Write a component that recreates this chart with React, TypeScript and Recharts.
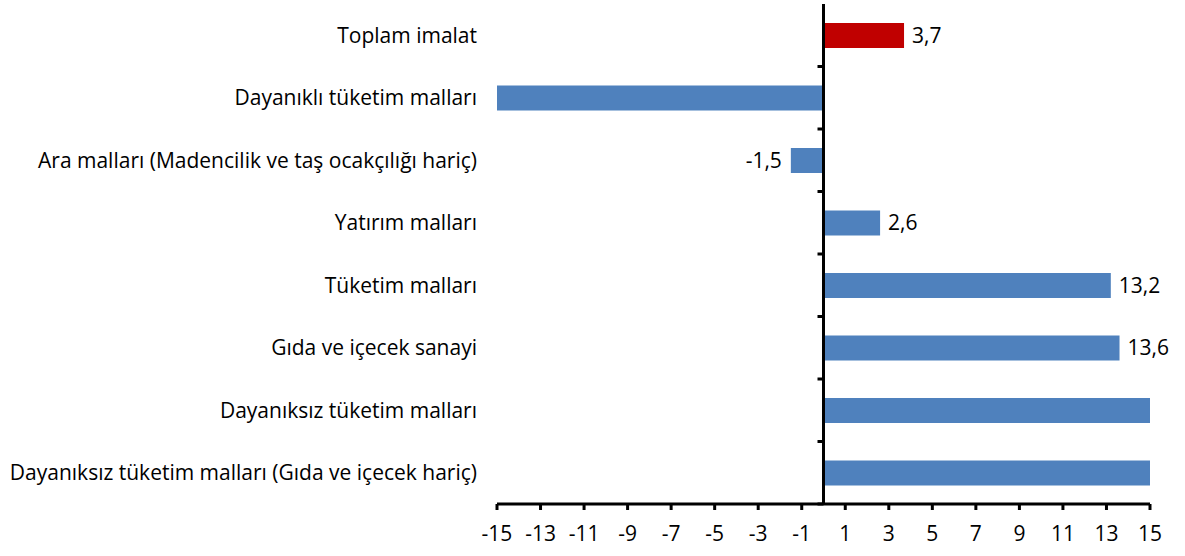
import React from 'react'
import { BarChart, Bar, XAxis, YAxis, Cell, ReferenceLine, LabelList } from 'recharts'

const categories = [
  'Toplam imalat',
  'Dayanıklı tüketim malları',
  'Ara malları (Madencilik ve taş ocakçılığı hariç)',
  'Yatırım malları',
  'Tüketim malları',
  'Gıda ve içecek sanayi',
  'Dayanıksız tüketim malları',
  'Dayanıksız tüketim malları (Gıda ve içecek hariç)',
]
// the 2nd, 7th and 8th bars run off the axis in the source, values estimated
const values = [3.7, -22.5, -1.5, 2.6, 13.2, 13.6, 17.5, 19.8]
const xTicks = [-15, -13, -11, -9, -7, -5, -3, -1, 1, 3, 5, 7, 9, 11, 13, 15]

const data = categories.map((name, i) => ({ name, value: values[i] }))

const FONT = '"Open Sans", sans-serif'
const FS = 21
const BLUE = '#4F81BD'
const RED = '#C00000'

// value label: hidden when the bar is cut off by the axis range
const ValueLabel = (props: any) => {
  const { x, y, width, height, value } = props
  if (Math.abs(value) > 15) return null
  const neg = value < 0
  const left = Math.min(x, x + width)
  const right = Math.max(x, x + width)
  return (
    <text
      x={neg ? left - 9 : right + 8}
      y={y + height / 2}
      dy="0.35em"
      textAnchor={neg ? 'end' : 'start'}
      fontSize={FS}
      fontFamily={FONT}
      fill="#000"
    >
      {String(value).replace('.', ',')}
    </text>
  )
}

// zero line with small ticks between categories
const ZeroAxis = (props: any) => {
  const { x1, y1, x2, y2 } = props
  const n = categories.length
  const step = (y2 - y1) / n
  return (
    <g>
      <line x1={x1} y1={y1} x2={x2} y2={y2} stroke="#000" strokeWidth={3} />
      {Array.from({ length: n }, (_, i) => (
        <line key={i} x1={x1 - 6} x2={x1} y1={y1 + i * step} y2={y1 + i * step} stroke="#000" strokeWidth={3} />
      ))}
    </g>
  )
}

export default function App() {
  return (
    <div style={{ position: 'absolute', left: 0, top: 0, background: '#fff' }}>
      <BarChart
        width={1185}
        height={556}
        data={data}
        layout="vertical"
        margin={{ top: 4, right: 35, bottom: 0, left: 0 }}
        barSize={25}
      >
        <XAxis
          type="number"
          domain={[-15, 15]}
          ticks={xTicks}
          allowDataOverflow
          height={52}
          axisLine={{ stroke: '#000', strokeWidth: 3 }}
          tickLine={{ stroke: '#000', strokeWidth: 3 }}
          tickSize={6}
          tickMargin={16}
          tick={{ fontSize: FS, fontFamily: FONT, fill: '#000' }}
          interval={0}
        />
        <YAxis
          type="category"
          dataKey="name"
          width={497}
          axisLine={false}
          tickLine={false}
          tickSize={0}
          tickMargin={20}
          interval={0}
          tick={{ fontSize: FS, fontFamily: FONT, fill: '#000' }}
        />
        <Bar dataKey="value" isAnimationActive={false}>
          {data.map((d, i) => (
            <Cell key={i} fill={i === 0 ? RED : BLUE} />
          ))}
          <LabelList dataKey="value" content={ValueLabel} />
        </Bar>
        <ReferenceLine x={0} shape={ZeroAxis} />
      </BarChart>
    </div>
  )
}
